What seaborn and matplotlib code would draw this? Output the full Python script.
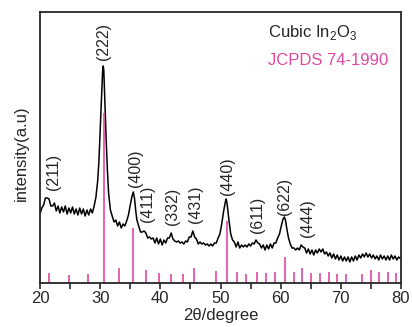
import numpy as np
import pandas as pd
import matplotlib
matplotlib.use("Agg")
import matplotlib.pyplot as plt
from matplotlib.ticker import MultipleLocator
import seaborn as sns

# ---- Measured pattern (2theta, intensity a.u.) ----
two_theta = [
    20.0, 20.3, 20.6, 20.9, 21.2, 21.5, 21.8, 22.1, 22.4, 22.7, 23.0, 23.3,
    23.6, 23.9, 24.2, 24.5, 24.8, 25.1, 25.4, 25.7, 26.0, 26.3, 26.6, 26.9,
    27.2, 27.5, 27.8, 28.1, 28.4, 28.7, 29.0, 29.3, 29.6, 29.8, 30.0, 30.2,
    30.4, 30.5, 30.6, 30.8, 31.0, 31.2, 31.4, 31.7, 32.0, 32.3, 32.6, 32.9,
    33.2, 33.5, 33.8, 34.1, 34.4, 34.7, 35.0, 35.3, 35.5, 35.7, 35.9, 36.1,
    36.4, 36.7, 37.0, 37.3, 37.6, 37.9, 38.2, 38.5, 38.8, 39.1, 39.4, 39.7,
    40.0, 40.3, 40.6, 40.9, 41.2, 41.5, 41.8, 42.1, 42.4, 42.7, 43.0, 43.3,
    43.6, 43.9, 44.2, 44.5, 44.8, 45.1, 45.4, 45.7, 46.0, 46.3, 46.6, 46.9,
    47.2, 47.5, 47.8, 48.1, 48.4, 48.7, 49.0, 49.3, 49.6, 49.9, 50.2, 50.5,
    50.8, 50.95, 51.1, 51.4, 51.7, 52.0, 52.3, 52.6, 52.9, 53.2, 53.5, 53.8,
    54.1, 54.4, 54.7, 55.0, 55.3, 55.6, 55.9, 56.2, 56.5, 56.8, 57.1, 57.4,
    57.7, 58.0, 58.3, 58.6, 58.9, 59.2, 59.5, 59.8, 60.1, 60.4, 60.6, 60.8,
    61.0, 61.3, 61.6, 61.9, 62.2, 62.5, 62.8, 63.1, 63.4, 63.7, 64.0, 64.3,
    64.6, 64.9, 65.2, 65.5, 65.8, 66.1, 66.4, 66.7, 67.0, 67.3, 67.6, 67.9,
    68.2, 68.5, 68.8, 69.1, 69.4, 69.7, 70.0, 70.3, 70.6, 70.9, 71.2, 71.5,
    71.8, 72.1, 72.4, 72.7, 73.0, 73.3, 73.6, 73.9, 74.2, 74.5, 74.8, 75.1,
    75.4, 75.7, 76.0, 76.3, 76.6, 76.9, 77.2, 77.5, 77.8, 78.1, 78.4, 78.7,
    79.0, 79.3, 79.6, 80.0,
]
intensity = [
    69, 75, 78, 85, 85, 84, 77, 77, 80, 72, 77, 70,
    76, 71, 77, 69, 75, 70, 76, 69, 74, 68, 75, 69,
    74, 67, 73, 68, 74, 70, 77, 86, 103, 123, 153, 183,
    211, 217, 213, 178, 143, 113, 90, 73, 67, 61, 63, 57,
    61, 55, 59, 57, 62, 68, 78, 87, 91, 85, 73, 63,
    57, 51, 51, 52, 50, 45, 46, 44, 45, 40, 45, 39,
    44, 38, 43, 40, 45, 45, 50, 44, 42, 41, 42, 40,
    41, 39, 42, 41, 46, 46, 52, 46, 44, 39, 41, 39,
    40, 38, 39, 37, 39, 37, 40, 40, 45, 49, 59, 71,
    81, 84, 79, 63, 49, 43, 41, 36, 41, 35, 38, 36,
    38, 36, 39, 37, 40, 39, 43, 40, 39, 35, 38, 33,
    38, 34, 39, 35, 40, 40, 45, 49, 57, 64, 66, 63,
    55, 45, 39, 35, 35, 33, 35, 33, 38, 36, 35, 30,
    34, 29, 33, 28, 33, 30, 34, 31, 34, 29, 31, 27,
    30, 25, 29, 24, 28, 23, 27, 22, 26, 22, 26, 21,
    26, 22, 27, 23, 28, 25, 29, 26, 30, 26, 29, 25,
    28, 24, 27, 23, 28, 24, 27, 23, 27, 23, 28, 24,
    27, 23, 26, 24,
]

# ---- JCPDS 74-1990 reference lines ----
ref_pos = [21.5, 24.9, 27.9, 30.6, 33.1, 35.5, 37.6, 39.8, 41.8, 43.8, 45.6,
           49.2, 51.0, 52.7, 54.3, 56.0, 57.5, 59.1, 60.7, 62.2, 63.6, 65.1,
           66.5, 68.0, 69.4, 70.8, 73.6, 75.0, 76.4, 77.8, 79.1]
ref_int = [10, 8, 9, 170, 15, 55, 12.5, 10, 9, 9, 15,
           12, 61.5, 10.5, 9, 11, 10, 10.5, 26, 11, 14.5, 10,
           9.5, 10.5, 9, 9, 9, 12.5, 10.5, 10.5, 10]

# ---- Miller indices ----
hkl = ["(211)", "(222)", "(400)", "(411)", "(332)", "(431)",
       "(440)", "(611)", "(622)", "(444)"]
label_xy = [(22.3, 93), (30.5, 223), (35.8, 96), (37.9, 61), (42.1, 58),
            (45.9, 60), (51.2, 88), (56.1, 50), (60.7, 68), (64.5, 46)]

pink = "#e0499f"

sns.set_style("ticks")
plt.rcParams["font.family"] = ["Liberation Sans", "DejaVu Sans"]

fig = plt.figure(figsize=(4.12, 3.27), dpi=100)
ax = fig.add_axes([0.0971, 0.1346, 0.8762, 0.8287])

df = pd.DataFrame({"two_theta": two_theta, "intensity": intensity})
sns.lineplot(data=df, x="two_theta", y="intensity", color="black",
             lw=1.1, ax=ax, sort=False)
ax.vlines(ref_pos, 0, ref_int, color=pink, lw=1.2)

for lab, (x, y) in zip(hkl, label_xy):
    ax.text(x, y, lab, rotation=90, ha="center", va="bottom", fontsize=11.5)

ax.text(0.632, 0.909, "Cubic In$_\\mathregular{2}$O$_\\mathregular{3}$",
        transform=ax.transAxes, fontsize=12, va="baseline")
ax.text(0.632, 0.804, "JCPDS 74-1990", color=pink,
        transform=ax.transAxes, fontsize=12, va="baseline")

ax.set_xlim(20, 80)
ax.set_ylim(0, 271)
ax.set_yticks([])
ax.xaxis.set_major_locator(MultipleLocator(10))
ax.xaxis.set_minor_locator(MultipleLocator(5))
ax.tick_params(axis="x", which="both", direction="out", length=4,
               width=1.2, labelsize=12, pad=2)
for s in ax.spines.values():
    s.set_linewidth(1.3)

ax.set_xlabel("2θ/degree", fontsize=12, labelpad=1)
ax.set_ylabel("intensity(a.u)", fontsize=12)
ax.yaxis.set_label_coords(-0.03, 0.478)

plt.savefig("out.png", dpi=100)
plt.close(fig)
